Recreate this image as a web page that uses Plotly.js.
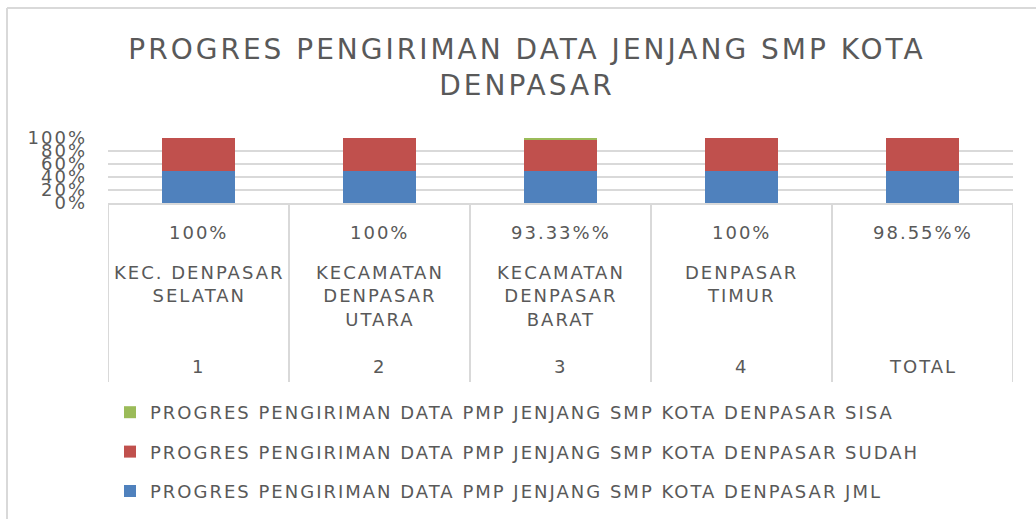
<!DOCTYPE html>
<html>
<head>
<meta charset="utf-8">
<script src="https://cdn.plot.ly/plotly-3.0.1.min.js"></script>
<style>
html,body{margin:0;padding:0;background:#fff;}
#chart{width:1036px;height:519px;}
#chart .gtitle{letter-spacing:3px;}
#chart .annotation-text, #chart .legendtext, #chart .ytick text{letter-spacing:2px;}
#chart .legend .scrollbox, #chart .legend g{clip-path:none !important;}
</style>
</head>
<body>
<div id="chart"></div>
<script>
// ---- data ----
const categoryNumbers = ["1", "2", "3", "4", "TOTAL"];
const categoryNames = ["KEC. DENPASAR<br>SELATAN", "KECAMATAN<br>DENPASAR<br>UTARA", "KECAMATAN<br>DENPASAR<br>BARAT", "DENPASAR<br>TIMUR", ""];
const percentLabels = ["100%", "100%", "93.33%%", "100%", "98.55%%"];
const jml = [20, 16, 15, 18, 69];
const sudah = [20, 16, 14, 18, 68];
const sisa = [0, 0, 1, 0, 1];
const seriesNames = [
  "PROGRES PENGIRIMAN DATA PMP JENJANG SMP KOTA DENPASAR JML",
  "PROGRES PENGIRIMAN DATA PMP JENJANG SMP KOTA DENPASAR SUDAH",
  "PROGRES PENGIRIMAN DATA PMP JENJANG SMP KOTA DENPASAR SISA"
];
const yTicks = [0, 20, 40, 60, 80, 100];
const titleText = "PROGRES PENGIRIMAN DATA JENJANG SMP KOTA<br>DENPASAR";

// ---- layout helpers ----
const W = 1036, H = 519;
const plotL = 108, plotR = 1013, plotT = 138, plotB = 203;
const px2x = p => (p - plotL) / (plotR - plotL);
const py2y = p => (plotB - p) / (plotB - plotT);
const FONT = "DejaVu Sans, sans-serif";
const TXT = "#595959";
const GRID = "#d9d9d9";
const colors = ["#4f81bd", "#c0504d", "#9bbb59"];

const xs = categoryNumbers.map((_, i) => i);
const valuesList = [jml, sudah, sisa];
const traces = valuesList.map((vals, k) => ({
  type: "bar",
  x: xs,
  y: vals,
  name: seriesNames[k],
  legendgroup: "g" + k,
  legendrank: 3 - k,
  marker: {color: colors[k], line: {width: 0}},
  hoverinfo: "skip"
}));

const annotations = [];
xs.forEach(i => {
  annotations.push({xref: "x", yref: "paper", x: i, y: py2y(232), yanchor: "middle", xanchor: "center",
    text: percentLabels[i], showarrow: false, font: {family: FONT, size: 18, color: TXT}});
  if (categoryNames[i]) annotations.push({xref: "x", yref: "paper", x: i, y: py2y(260), yanchor: "top", xanchor: "center",
    text: categoryNames[i], showarrow: false, font: {family: FONT, size: 18, color: TXT}});
  annotations.push({xref: "x", yref: "paper", x: i, y: py2y(366), yanchor: "middle", xanchor: "center",
    text: categoryNumbers[i], showarrow: false, font: {family: FONT, size: 18, color: TXT}});
});

const shapes = [];
for (let i = 0; i <= xs.length; i++) {
  shapes.push({type: "line", xref: "x", yref: "paper", x0: i - 0.5, x1: i - 0.5, y0: 0, y1: py2y(382),
    line: {color: GRID, width: 2}});
}
// outer chart border
shapes.push({type: "line", xref: "paper", yref: "paper", x0: px2x(7), x1: px2x(W + 5), y0: py2y(8), y1: py2y(8), line: {color: GRID, width: 2}});
shapes.push({type: "line", xref: "paper", yref: "paper", x0: px2x(7), x1: px2x(7), y0: py2y(8), y1: py2y(H + 5), line: {color: GRID, width: 2}});

const layout = {
  width: W, height: H,
  margin: {l: plotL, r: W - plotR, t: plotT, b: H - plotB, pad: 0, autoexpand: false},
  paper_bgcolor: "#ffffff", plot_bgcolor: "#ffffff",
  barmode: "stack", barnorm: "percent", bargap: 0.6,
  showlegend: true,
  title: {text: titleText, x: 527 / W, xanchor: "center", y: 1 - 59 / H, yanchor: "middle",
    font: {family: FONT, size: 28, color: TXT}},
  xaxis: {range: [-0.5, xs.length - 0.5], showticklabels: false, showgrid: false, zeroline: false,
    showline: true, linecolor: GRID, linewidth: 2, fixedrange: true, automargin: false},
  yaxis: {range: [0, 100], tickvals: yTicks, ticktext: yTicks.map(v => v + "%"),
    tickfont: {family: FONT, size: 18, color: TXT}, ticklabelstandoff: 20, automargin: false,
    showgrid: true, gridcolor: GRID, gridwidth: 2, zeroline: false, showline: false, fixedrange: true},
  legend: {xref: "container", yref: "container", x: 110 / W, xanchor: "left", y: 1 - 394 / H, yanchor: "top",
    orientation: "v", traceorder: "grouped", tracegroupgap: 13,
    font: {family: FONT, size: 18, color: TXT}, bgcolor: "rgba(0,0,0,0)"},
  annotations: annotations,
  shapes: shapes
};

Plotly.newPlot("chart", traces, layout, {displayModeBar: false, staticPlot: true});
</script>
</body>
</html>
